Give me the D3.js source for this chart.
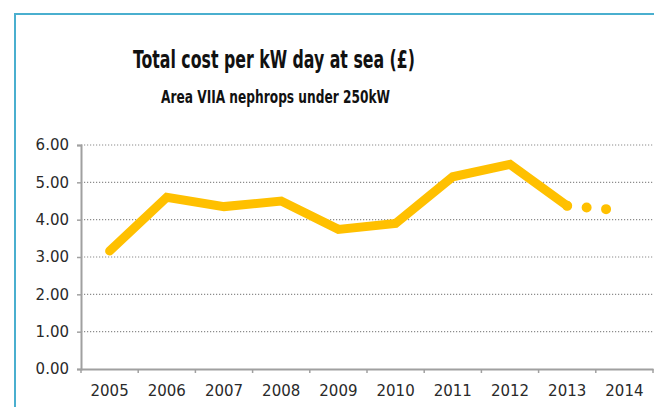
<!DOCTYPE html>
<html>
<head>
<meta charset="utf-8">
<script src="https://cdn.jsdelivr.net/npm/d3@7"></script>
<style>
  body { margin: 0; background: #fff; }
  svg { display: block; }
  .title { font-family: "Liberation Sans Narrow", "DejaVu Sans Condensed", "Liberation Sans", sans-serif; font-weight: bold; fill: #111; }
  .axis text { font-family: "DejaVu Sans", Verdana, sans-serif; font-size: 15px; fill: #2a2a2a; }
</style>
</head>
<body>
<script>
// data
var years = ["2005", "2006", "2007", "2008", "2009", "2010", "2011", "2012", "2013", "2014"];
var cost = [3.16, 4.60, 4.35, 4.50, 3.74, 3.90, 5.15, 5.48, 4.37];   // 2005-2013, solid line
var projected = [4.37, 4.24];                                          // 2013-2014, dotted line
var yTicks = [0, 1, 2, 3, 4, 5, 6];

var svg = d3.select("body").append("svg")
    .attr("width", 654)
    .attr("height", 407);

var margin = {top: 145, right: 1, bottom: 38, left: 81},
    width = +svg.attr("width") - margin.left - margin.right,
    height = +svg.attr("height") - margin.top - margin.bottom;

// chart border (top and left visible)
svg.append("path")
    .attr("d", "M15,407 L15,14 L654,14")
    .attr("fill", "none")
    .attr("stroke", "#4aafcf")
    .attr("stroke-width", 2);

svg.append("text")
    .attr("class", "title")
    .attr("x", 274).attr("y", 68)
    .attr("text-anchor", "middle")
    .attr("font-size", 25)
    .attr("textLength", 282)
    .attr("lengthAdjust", "spacingAndGlyphs")
    .text("Total cost per kW day at sea (£)");

svg.append("text")
    .attr("class", "title")
    .attr("x", 275.5).attr("y", 103)
    .attr("text-anchor", "middle")
    .attr("font-size", 18.5)
    .attr("textLength", 229)
    .attr("lengthAdjust", "spacingAndGlyphs")
    .text("Area VIIA nephrops under 250kW");

var x = d3.scaleBand().domain(years).range([0, width]);
var y = d3.scaleLinear().domain([0, 6]).range([height, 0]);

var g = svg.append("g")
    .attr("transform", "translate(" + margin.left + "," + margin.top + ")");

// dotted gridlines
g.selectAll(".grid")
    .data(yTicks.slice(1))
  .enter().append("line")
    .attr("class", "grid")
    .attr("x1", 0).attr("x2", width + 1)
    .attr("y1", function(d) { return y(d); })
    .attr("y2", function(d) { return y(d); })
    .attr("stroke", "#8c8c8c")
    .attr("stroke-width", 1.2)
    .attr("stroke-dasharray", "1.2,1.8");

var yAxis = g.append("g")
    .attr("class", "y axis")
    .call(d3.axisLeft(y).tickValues(yTicks).tickFormat(d3.format(".2f")).tickSize(4).tickPadding(8));

var xAxis = g.append("g")
    .attr("class", "x axis")
    .attr("transform", "translate(0," + height + ")")
    .call(d3.axisBottom(x).tickSize(0).tickPadding(16));

// x ticks sit on category boundaries
xAxis.selectAll(".bound")
    .data(years.concat(["end"]))
  .enter().append("line")
    .attr("class", "bound")
    .attr("x1", function(d, i) { return i * x.step(); })
    .attr("x2", function(d, i) { return i * x.step(); })
    .attr("y1", 0).attr("y2", 4)
    .attr("stroke", "#a0a0a0")
    .attr("stroke-width", 1.5);

svg.selectAll(".axis path.domain").attr("stroke", "#a0a0a0").attr("stroke-width", 2);
svg.selectAll(".axis .tick line").attr("stroke", "#a0a0a0").attr("stroke-width", 1.5);

var line = d3.line()
    .x(function(d) { return x(d.year) + x.bandwidth() / 2; })
    .y(function(d) { return y(d.value); });

var solid = cost.map(function(v, i) { return {year: years[i], value: v}; });
var dotted = projected.map(function(v, i) { return {year: years[8 + i], value: v}; });

g.append("path")
    .datum(solid)
    .attr("d", line)
    .attr("fill", "none")
    .attr("stroke", "#ffc000")
    .attr("stroke-width", 9)
    .attr("stroke-linejoin", "miter")
    .attr("stroke-linecap", "round");

g.append("path")
    .datum(dotted)
    .attr("d", line)
    .attr("fill", "none")
    .attr("stroke", "#ffc000")
    .attr("stroke-width", 10)
    .attr("stroke-linecap", "round")
    .attr("stroke-dasharray", "0,19.5");
</script>
</body>
</html>
